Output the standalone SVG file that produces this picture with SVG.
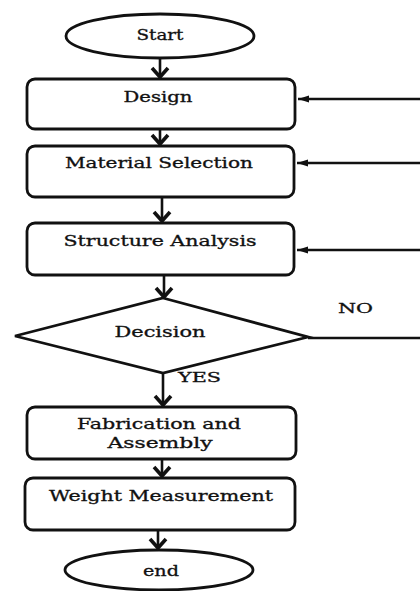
<svg xmlns="http://www.w3.org/2000/svg" width="420" height="591" viewBox="0 0 420 591">
<style>
.s{fill:#fff;stroke:#111;stroke-width:2.8}
.c{fill:none;stroke:#111;stroke-width:2.6}
.t{font-family:"DejaVu Serif","Liberation Serif",serif;font-size:14px;fill:#111;stroke:#111;stroke-width:0.3;text-anchor:middle}
.l{font-family:"DejaVu Serif","Liberation Serif",serif;font-size:13px;fill:#111;stroke:#111;stroke-width:0.3}
</style>
<defs>
<marker id="dn" markerUnits="userSpaceOnUse" markerWidth="24" markerHeight="24" viewBox="-12 -12 24 24" refX="0" refY="0" orient="auto">
<path d="M-9,-8 L0,0 L-9,8" fill="none" stroke="#111" stroke-width="3.6"/>
</marker>
<marker id="lf" markerUnits="userSpaceOnUse" markerWidth="14" markerHeight="10" viewBox="-12 -5 14 10" refX="0" refY="0" orient="auto">
<path d="M0,0 L-11,-3.5 L-11,3.5 Z" fill="#111"/>
</marker>
</defs>
<rect width="420" height="591" fill="#fff"/>
<g id="connectors">
<line class="c" x1="160" y1="58" x2="160" y2="77" marker-end="url(#dn)"/>
<line class="c" x1="160" y1="129" x2="160" y2="144" marker-end="url(#dn)"/>
<line class="c" x1="162" y1="197" x2="162" y2="221" marker-end="url(#dn)"/>
<line class="c" x1="164" y1="275" x2="164" y2="297" marker-end="url(#dn)"/>
<line class="c" x1="163" y1="373" x2="163" y2="405" marker-end="url(#dn)"/>
<line class="c" x1="162" y1="459" x2="162" y2="476" marker-end="url(#dn)"/>
<line class="c" x1="158" y1="530" x2="158" y2="548" marker-end="url(#dn)"/>
<line class="c" x1="308" y1="338" x2="420" y2="338"/>
<line class="c" x1="420" y1="99" x2="298" y2="99" marker-end="url(#lf)"/>
<line class="c" x1="420" y1="163" x2="297" y2="163" marker-end="url(#lf)"/>
<line class="c" x1="420" y1="250" x2="297" y2="250" marker-end="url(#lf)"/>
<text class="l" x="338" y="313" textLength="35" lengthAdjust="spacingAndGlyphs">NO</text>
<text class="l" x="178" y="382" font-size="14" textLength="43" lengthAdjust="spacingAndGlyphs">YES</text>
</g>
<g id="start">
<ellipse class="s" cx="160" cy="36" rx="94" ry="22"/>
<text class="t" x="160" y="40" font-size="13" textLength="47" lengthAdjust="spacingAndGlyphs">Start</text>
</g>
<g id="design">
<rect class="s" x="27" y="79" width="268" height="50" rx="8"/>
<text class="t" x="158" y="102" textLength="69" lengthAdjust="spacingAndGlyphs">Design</text>
</g>
<g id="material">
<rect class="s" x="27" y="146" width="267" height="51" rx="8"/>
<text class="t" x="159" y="168" textLength="188" lengthAdjust="spacingAndGlyphs">Material Selection</text>
</g>
<g id="structure">
<rect class="s" x="27" y="223" width="267" height="52" rx="8"/>
<text class="t" x="160" y="246" textLength="193" lengthAdjust="spacingAndGlyphs">Structure Analysis</text>
</g>
<g id="decision">
<polygon class="s" points="163,298 308,337 163,373 15,336"/>
<text class="t" x="160" y="337" font-size="15" textLength="91" lengthAdjust="spacingAndGlyphs">Decision</text>
</g>
<g id="fabrication">
<rect class="s" x="27" y="407" width="269" height="52" rx="8"/>
<text class="t" x="159" y="429" textLength="164" lengthAdjust="spacingAndGlyphs">Fabrication and</text>
<text class="t" x="160" y="448" textLength="105" lengthAdjust="spacingAndGlyphs">Assembly</text>
</g>
<g id="weight">
<rect class="s" x="25" y="478" width="270" height="52" rx="8"/>
<text class="t" x="161" y="501" textLength="224" lengthAdjust="spacingAndGlyphs">Weight Measurement</text>
</g>
<g id="end">
<ellipse class="s" cx="159" cy="570" rx="94" ry="20"/>
<text class="t" x="161" y="576" textLength="36" lengthAdjust="spacingAndGlyphs">end</text>
</g>
</svg>
